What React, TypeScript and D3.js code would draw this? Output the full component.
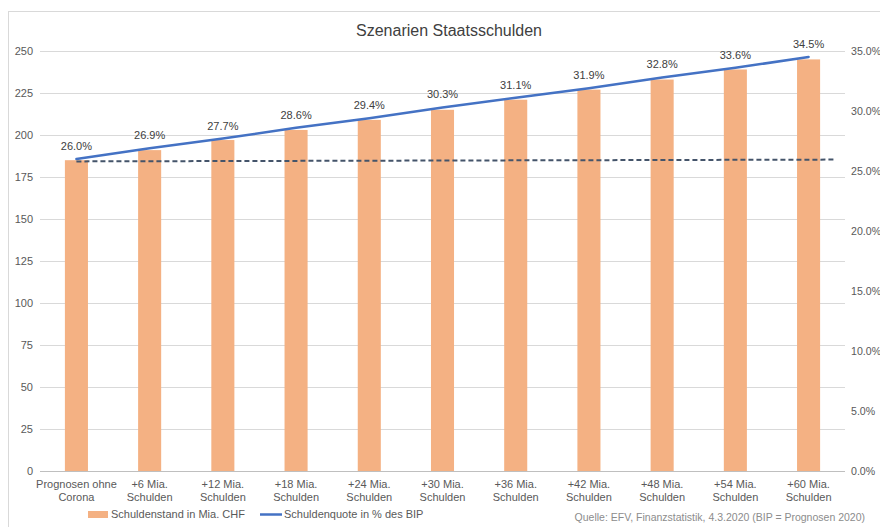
import React from 'react';
import * as d3 from 'd3';

const categories = [
  ['Prognosen ohne', 'Corona'],
  ['+6 Mia.', 'Schulden'],
  ['+12 Mia.', 'Schulden'],
  ['+18 Mia.', 'Schulden'],
  ['+24 Mia.', 'Schulden'],
  ['+30 Mia.', 'Schulden'],
  ['+36 Mia.', 'Schulden'],
  ['+42 Mia.', 'Schulden'],
  ['+48 Mia.', 'Schulden'],
  ['+54 Mia.', 'Schulden'],
  ['+60 Mia.', 'Schulden'],
];
const schuldenstand = [185, 191, 197, 203, 209, 215, 221, 227, 233, 239, 245];
const schuldenquote = [26.0, 26.9, 27.7, 28.6, 29.4, 30.3, 31.1, 31.9, 32.8, 33.6, 34.5];
// flat reference (dashed), starts at first category, runs nearly to the right edge
const referenz = [25.8, 25.95];
const leftTicks = [0, 25, 50, 75, 100, 125, 150, 175, 200, 225, 250];
const rightTicks = [0, 5, 10, 15, 20, 25, 30, 35];

const FONT = '"Liberation Sans", Arial, sans-serif';
const M = { top: 51, right: 35, bottom: 56, left: 40 };
const W = 880;
const H = 527;

export default function App() {
  const innerW = W - M.left - M.right;
  const innerH = H - M.top - M.bottom;
  const ids = categories.map((_, i) => String(i));

  const x = d3.scaleBand<string>().domain(ids).range([0, innerW]).paddingInner(0.685).paddingOuter(0.34);
  const cx = (i: number) => (x(String(i)) ?? 0) + x.bandwidth() / 2;
  const yL = d3.scaleLinear().domain([0, 250]).range([innerH, 0]);
  const yR = d3.scaleLinear().domain([0, 35]).range([innerH, 0]);

  const line = d3
    .line<number>()
    .x((_, i) => cx(i))
    .y((d) => yR(d));

  const dashX = [cx(0), innerW - 10];

  return (
    <svg width={W} height={H} style={{ position: 'absolute', left: 0, top: 0 }} fontFamily={FONT}>
      <rect x={0} y={0} width={W} height={H} fill="#fff" />
      <rect x={8.5} y={11.5} width={W + 10} height={H} fill="none" stroke="#d9d9d9" />
      <text x={449} y={36} textAnchor="middle" fontSize={16} fill="#404040">
        Szenarien Staatsschulden
      </text>
      <g transform={`translate(${M.left},${M.top})`}>
        {leftTicks.map((t) => (
          <g key={t}>
            {t > 0 && <line x1={0} x2={innerW} y1={Math.round(yL(t)) + 0.5} y2={Math.round(yL(t)) + 0.5} stroke="#d9d9d9" />}
            <text x={-7} y={yL(t) + 4} textAnchor="end" fontSize={11} fill="#595959">
              {t}
            </text>
          </g>
        ))}
        {rightTicks.map((t) => (
          <text key={t} x={innerW + 6} y={yR(t) + 4} textAnchor="start" fontSize={10.6} fill="#595959">
            {t.toFixed(1)}%
          </text>
        ))}
        {schuldenstand.map((v, i) => (
          <rect key={i} x={x(String(i))} y={yL(v)} width={x.bandwidth()} height={innerH - yL(v)} fill="#f4b183" />
        ))}
        <line x1={0} x2={innerW} y1={innerH + 0.5} y2={innerH + 0.5} stroke="#bfbfbf" />
        <line
          x1={dashX[0]}
          x2={dashX[1]}
          y1={yR(referenz[0])}
          y2={yR(referenz[1])}
          stroke="#44546a"
          strokeWidth={2}
          strokeDasharray="5,3"
        />
        <path d={line(schuldenquote) ?? ''} fill="none" stroke="#4472c4" strokeWidth={2.5} strokeLinecap="round" />
        {schuldenquote.map((v, i) => (
          <text key={i} x={cx(i)} y={yR(v) - 9} textAnchor="middle" fontSize={11} fill="#404040">
            {v.toFixed(1)}%
          </text>
        ))}
        {categories.map((c, i) => (
          <text key={i} x={cx(i)} textAnchor="middle" fontSize={11} fill="#595959">
            <tspan x={cx(i)} y={innerH + 17}>{c[0]}</tspan>
            <tspan x={cx(i)} y={innerH + 30}>{c[1]}</tspan>
          </text>
        ))}
      </g>
      <rect x={88} y={511} width={20} height={7} fill="#f4b183" />
      <text x={111} y={518} fontSize={11} fill="#595959">Schuldenstand in Mia. CHF</text>
      <line x1={260} x2={282} y1={514.5} y2={514.5} stroke="#4472c4" strokeWidth={2.5} />
      <text x={284} y={518} fontSize={11} fill="#595959">Schuldenquote in % des BIP</text>
      <text x={865} y={521} textAnchor="end" fontSize={10.5} fill="#8c8c8c">
        Quelle: EFV,  Finanzstatistik, 4.3.2020 (BIP = Prognosen 2020)
      </text>
    </svg>
  );
}
